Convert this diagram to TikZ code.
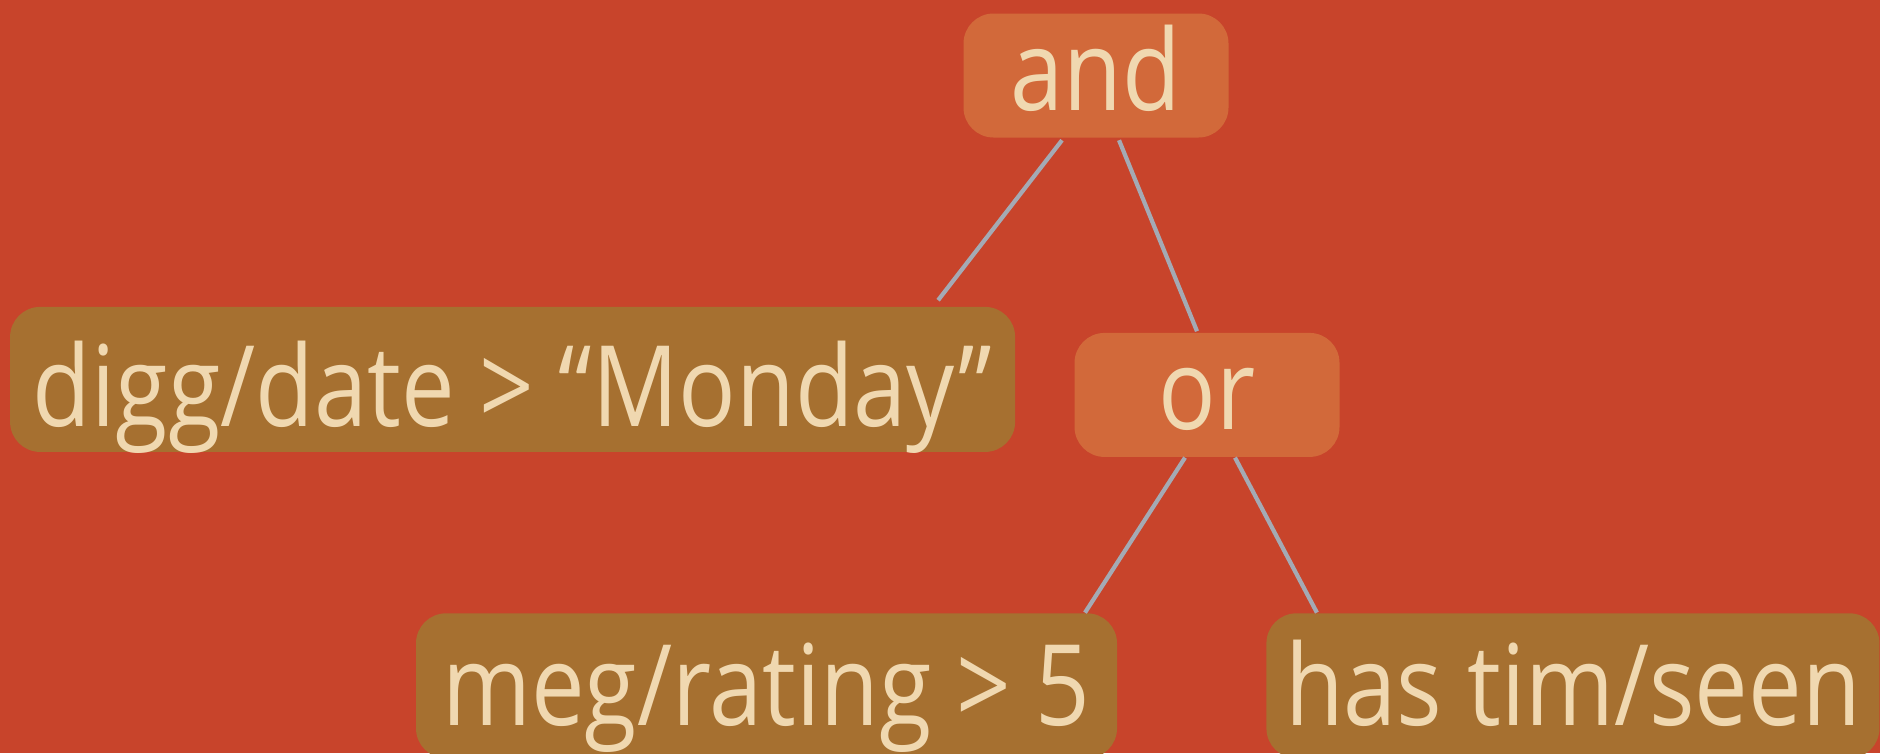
\documentclass[tikz,border=0pt]{standalone}
\usepackage{fontspec}
\setmainfont[FakeStretch=0.85]{Open Sans}
\usetikzlibrary{positioning,calc}

\definecolor{paper}{HTML}{C8442B}
\definecolor{opfill}{HTML}{D2693A}
\definecolor{leaffill}{HTML}{A67030}
\definecolor{cream}{HTML}{F0D8B0}
\definecolor{wire}{HTML}{A4AAB4}

\begin{document}
\begin{tikzpicture}[
  op/.style={rounded corners=0.3cm, fill=opfill, text=cream, inner sep=0pt, minimum width=2.65cm, minimum height=1.24cm, font=\fontsize{32}{36}\selectfont, text height=0.69cm, text depth=0pt},
  leaf/.style={rounded corners=0.3cm, fill=leaffill, text=cream, inner sep=0pt, minimum height=1.45cm, font=\fontsize{32}{36}\selectfont, text height=0.95cm, text depth=0pt},
  edge/.style={draw=wire, line width=1.2pt}
]
\fill[paper] (0,0) rectangle (18.8,-7.53);
\useasboundingbox (0,0) rectangle (18.8,-7.53);

\node[op] (and) at (10.96,-0.755) {and};
\node[op, below=1.94cm of and, xshift=1.11cm] (or) {or};
\node[leaf, minimum width=10.05cm, left=0.58cm of or, yshift=0.155cm] (digg) {digg/date > “Monday”};
% bottom row: text sits a little higher in the box
\node[leaf, minimum width=7.01cm, text height=0.8cm, below=1.55cm of or, xshift=-4.405cm] (meg) {meg/rating > 5};
\node[leaf, minimum width=6.13cm, text height=0.8cm, right=1.48cm of meg] (has) {has tim/seen};

\draw[edge] ([xshift=-0.34cm, yshift=-0.02cm]and.south) -- ([xshift=4.255cm, yshift=0.06cm]digg.north);
\draw[edge] ([xshift=0.23cm, yshift=-0.02cm]and.south) -- ([xshift=-0.10cm, yshift=0.01cm]or.north);
\draw[edge] ([xshift=-0.22cm]or.south) -- ([xshift=3.185cm]meg.north);
\draw[edge] ([xshift=0.28cm]or.south) -- ([xshift=-2.56cm]has.north);

\end{tikzpicture}
\end{document}
